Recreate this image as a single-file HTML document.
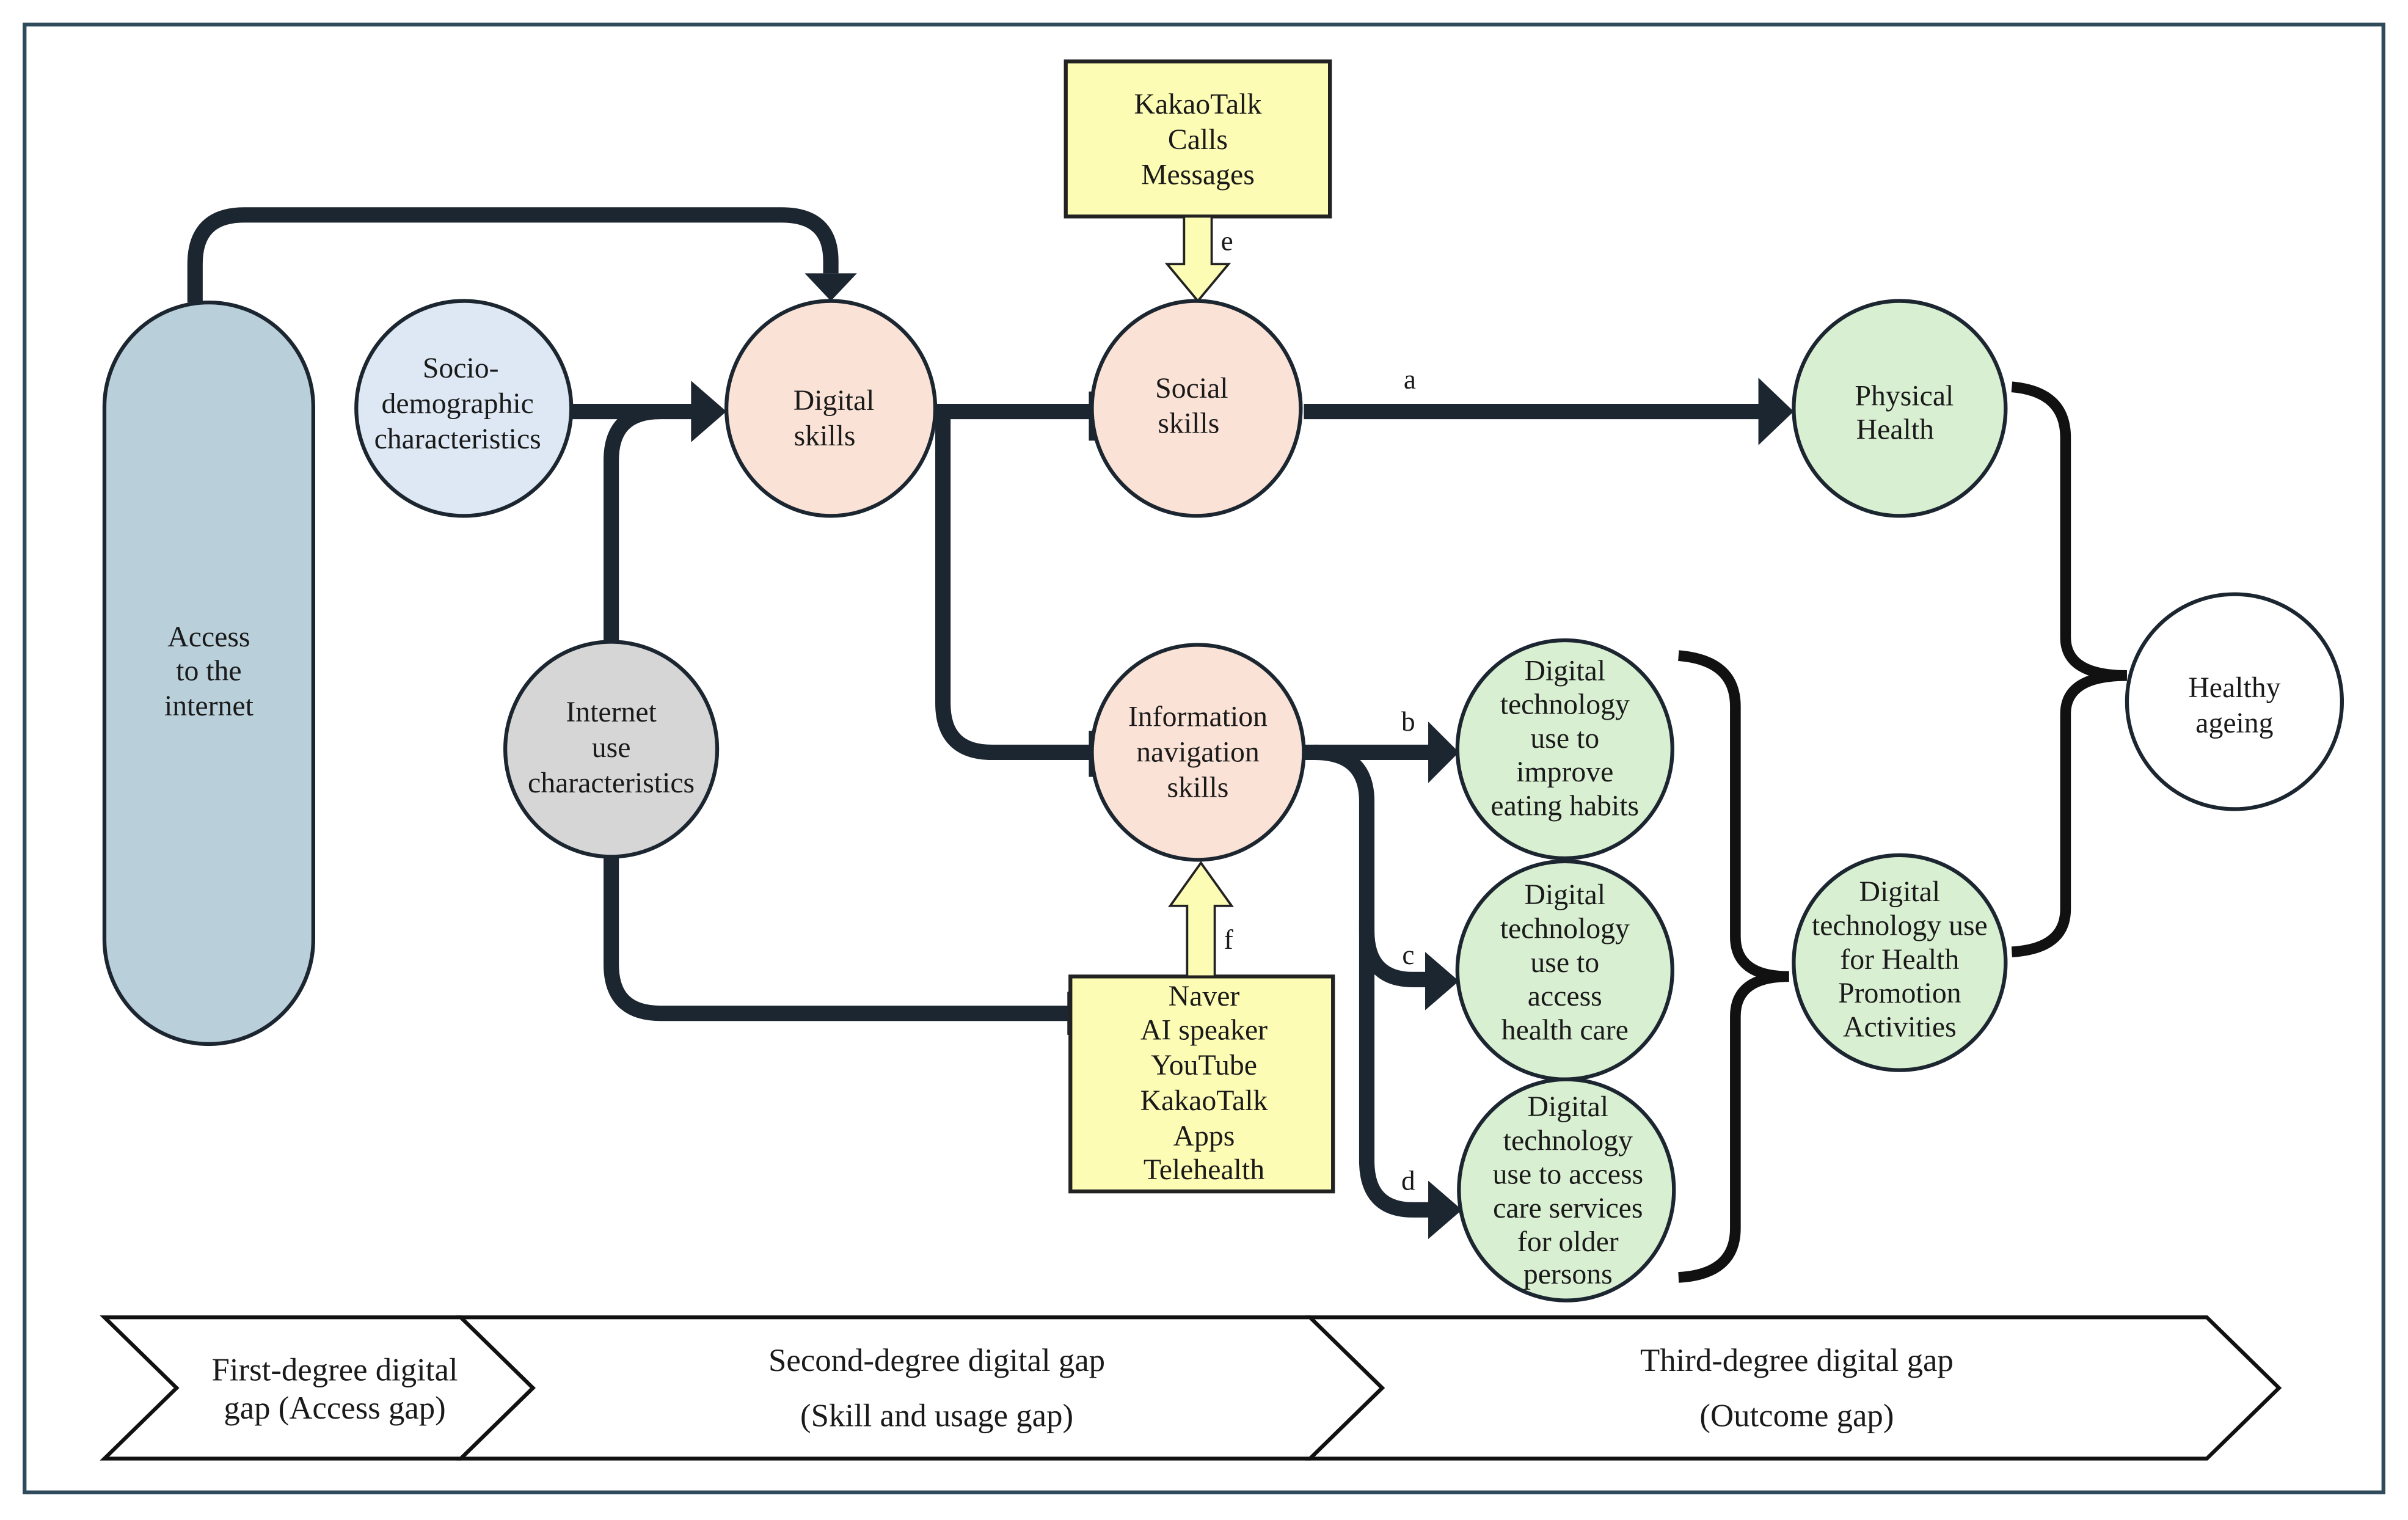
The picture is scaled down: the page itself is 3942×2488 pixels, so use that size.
<!DOCTYPE html>
<html><head><meta charset="utf-8"><style>
html,body{margin:0;padding:0;background:#fff}
svg{display:block}
svg text{font-family:'Liberation Serif','DejaVu Serif',serif;fill:#1a1a1a;text-anchor:middle}
</style></head><body>
<svg width="3942" height="2488" viewBox="0 0 1568 990" preserveAspectRatio="none" xmlns="http://www.w3.org/2000/svg" font-family="Liberation Serif, serif">
<rect x="0" y="0" width="1568" height="990" fill="#fff"/>
<rect x="16" y="16" width="1536" height="956" fill="none" stroke="#2f4a5a" stroke-width="2.5"/>

<g fill="none" stroke="#1c2630" stroke-width="10">
<path d="M127 197 V172 Q127 140 159 140 H509 Q541 140 541 170 V178"/>
<path d="M372 268 H452"/>
<path d="M398 418 V300 Q398 268 430 268"/>
<path d="M398 558 V628 Q398 660 430 660 H697"/>
<path d="M609 268 H711"/>
<path d="M614 268 V458 Q614 490 646 490 H711"/>
<path d="M849 268 H1148"/>
<path d="M849 490 H932"/>
<path d="M856 490 Q890 490 890 522 V606 Q890 638 920 638 H932"/>
<path d="M890 600 V756 Q890 788 920 788 H934"/>
</g>
<g fill="#1c2630">
<polygon points="524,178 558,178 541,196"/>
<polygon points="450,248 450,288 473,268"/>
<polygon points="1145,246 1145,290 1168,268"/>
<polygon points="930,470 930,510 950,490"/>
<polygon points="928,620 928,658 950,639"/>
<polygon points="930,769 930,807 952,788"/>
<rect x="709" y="255" width="4" height="32"/>
<rect x="709" y="476" width="4" height="30"/>
<rect x="695" y="646" width="4" height="28"/>
</g>
<g font-size="18" font-family="Liberation Serif, serif">
<text x="918" y="253">a</text>
<text x="917" y="476">b</text>
<text x="917" y="628">c</text>
<text x="917" y="775">d</text>
<text x="799" y="163">e</text>
<text x="800" y="618">f</text>
</g>

<g fill="none" stroke="#111" stroke-width="7">
<path d="M1093 427 Q1130 430 1130 460 V610 Q1130 636 1165 636 Q1130 636 1130 662 V800 Q1130 830 1093 832"/>
<path d="M1310 252 Q1345 255 1345 285 V415 Q1345 440 1385 440 Q1345 440 1345 465 V592 Q1345 618 1310 620"/>
</g>

<rect x="694" y="40" width="172" height="101" fill="#fdfcb4" stroke="#222" stroke-width="2.5"/>
<g font-size="19" font-family="Liberation Serif, serif">
<text x="780" y="74">KakaoTalk</text>
<text x="780" y="97">Calls</text>
<text x="780" y="120">Messages</text>
</g>
<polygon points="771,141 789,141 789,172 800,172 780,196 760,172 771,172" fill="#fdfcb4" stroke="#222" stroke-width="1.5"/>

<rect x="697" y="636" width="171" height="140" fill="#fdfcb4" stroke="#222" stroke-width="2.5"/>
<g font-size="19" font-family="Liberation Serif, serif">
<text x="784" y="655">Naver</text>
<text x="784" y="677">AI speaker</text>
<text x="784" y="700">YouTube</text>
<text x="784" y="723">KakaoTalk</text>
<text x="784" y="746">Apps</text>
<text x="784" y="768">Telehealth</text>
</g>
<polygon points="773,636 791,636 791,590 802,590 782,562 762,590 773,590" fill="#fdfcb4" stroke="#222" stroke-width="1.5"/>

<g stroke="#1c2630" stroke-width="2.5">
<rect x="68" y="197" width="136" height="483" rx="68" fill="#b9cfda"/>
<ellipse cx="302" cy="266" rx="70" ry="70" fill="#dde8f4"/>
<ellipse cx="541" cy="266" rx="68" ry="70" fill="#fbe2d6"/>
<ellipse cx="779" cy="266" rx="68" ry="70" fill="#fbe2d6"/>
<ellipse cx="780" cy="490" rx="69" ry="70" fill="#fbe2d6"/>
<ellipse cx="398" cy="488" rx="69" ry="70" fill="#d6d6d6"/>
<ellipse cx="1237" cy="266" rx="69" ry="70" fill="#d9efd2"/>
<ellipse cx="1019" cy="488" rx="70" ry="71" fill="#d9efd2"/>
<ellipse cx="1019" cy="632" rx="70" ry="71" fill="#d9efd2"/>
<ellipse cx="1020" cy="775" rx="70" ry="72" fill="#d9efd2"/>
<ellipse cx="1237" cy="627" rx="69" ry="70" fill="#d9efd2"/>
<ellipse cx="1455" cy="457" rx="70" ry="70" fill="#fff"/>
</g>

<g font-size="19" font-family="Liberation Serif, serif">
<text x="136" y="421">Access</text>
<text x="136" y="443">to the</text>
<text x="136" y="466">internet</text>
<text x="300" y="246">Socio-</text>
<text x="298" y="269">demographic</text>
<text x="298" y="292">characteristics</text>
<text x="543" y="267">Digital</text>
<text x="537" y="290">skills</text>
<text x="776" y="259">Social</text>
<text x="774" y="282">skills</text>
<text x="780" y="473">Information</text>
<text x="780" y="496">navigation</text>
<text x="780" y="519">skills</text>
<text x="398" y="470">Internet</text>
<text x="398" y="493">use</text>
<text x="398" y="516">characteristics</text>
<text x="1240" y="264">Physical</text>
<text x="1234" y="286">Health</text>
<text x="1455" y="454">Healthy</text>
<text x="1455" y="477">ageing</text>
<text x="1237" y="587">Digital</text>
<text x="1237" y="609">technology use</text>
<text x="1237" y="631">for Health</text>
<text x="1237" y="653">Promotion</text>
<text x="1237" y="675">Activities</text>
<text x="1019" y="443">Digital</text>
<text x="1019" y="465">technology</text>
<text x="1019" y="487">use to</text>
<text x="1019" y="509">improve</text>
<text x="1019" y="531">eating habits</text>
<text x="1019" y="589">Digital</text>
<text x="1019" y="611">technology</text>
<text x="1019" y="633">use to</text>
<text x="1019" y="655">access</text>
<text x="1019" y="677">health care</text>
<text x="1021" y="727">Digital</text>
<text x="1021" y="749">technology</text>
<text x="1021" y="771">use to access</text>
<text x="1021" y="793">care services</text>
<text x="1021" y="815">for older</text>
<text x="1021" y="836">persons</text>
</g>

<g fill="#fff" stroke="#111" stroke-width="2.5" stroke-linejoin="miter">
<polygon points="853,858 1437,858 1484,904 1437,950 853,950 900,904"/>
<polygon points="300,858 853,858 900,904 853,950 300,950 347,904"/>
<polygon points="68,858 300,858 347,904 300,950 68,950 115,904"/>
</g>
<g font-size="21" font-family="Liberation Serif, serif">
<text x="218" y="899">First-degree digital</text>
<text x="218" y="924">gap (Access gap)</text>
<text x="610" y="893">Second-degree digital gap</text>
<text x="610" y="929">(Skill and usage gap)</text>
<text x="1170" y="893">Third-degree digital gap</text>
<text x="1170" y="929">(Outcome gap)</text>
</g>
</svg>
</body></html>
